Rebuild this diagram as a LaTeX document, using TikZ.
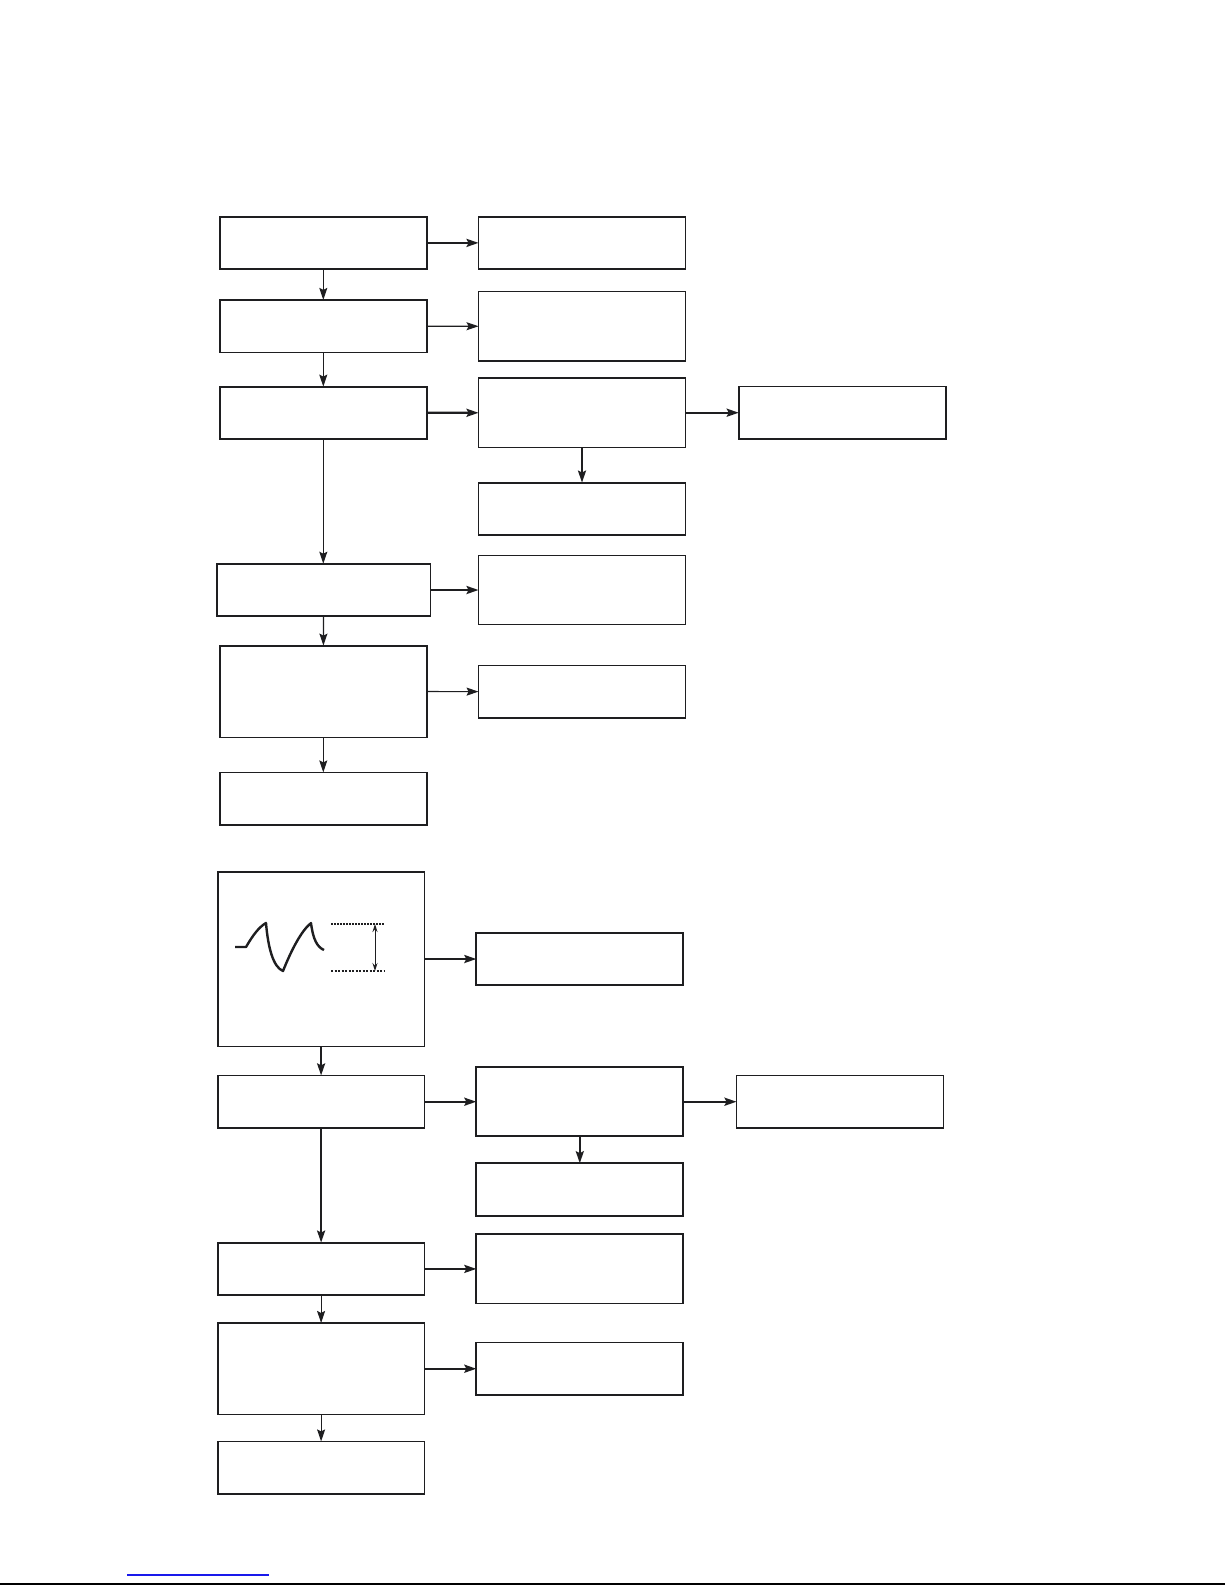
\documentclass[tikz,border=0pt]{standalone}
\usepackage{tikz}
\usetikzlibrary{arrows,arrows.meta,shapes,positioning}
\usepackage{xcolor}
\definecolor{linkblue}{RGB}{25,25,235}
\definecolor{ink}{RGB}{30,30,32}

\begin{document}
\begin{tikzpicture}[x=1pt, y=-1pt, >={Stealth[length=12pt,width=8pt,inset=2pt]},
    blk/.style={draw=ink, line width=1.8pt, minimum width=206.9pt, minimum height=#1,
      inner sep=0pt, outer sep=0pt},
    blk/.default=52.6pt,
    flow/.style={->, draw=ink, line width=1.2pt},
    flowb/.style={->, draw=ink, line width=2.3pt}] % {{{
    \useasboundingbox (0,0) rectangle (1225,1585);
    \pgfmathsetmacro{\colA}{323.3}
    \pgfmathsetmacro{\colB}{582}
    \pgfmathsetmacro{\colC}{842.2}
    \begin{scope}[shift={(0,0)}] % Upper chart {{{
      \node[blk] (m1) at (\colA,242.9) {};
      \node[blk] (m2) at (\colA,326.2) {};
      \node[blk] (m3) at (\colA,412.9) {};
      \node[blk, minimum width=213.8pt] (m4) at (\colA+0.2,590) {};
      \node[blk=91.8pt] (m5) at (\colA,691.5) {};
      \node[blk] (m6) at (\colA,798.7) {};
      \node[blk] (s1) at (\colB,242.9) {};
      \node[blk=69.5pt] (s2) at (\colB,326.3) {};
      \node[blk=69.5pt] (s3) at (\colB,412.7) {};
      \node[blk] (s4) at (\colB,508.9) {};
      \node[blk=69pt] (s5) at (\colB,590) {};
      \node[blk] (s6) at (\colB,691.7) {};
      \node[blk] (r1) at (\colC,412.7) {};
      \draw[flowb] (m1) -- (s1);
      \draw[flow] (m1) -- (m2);
      \draw[flow] (m2) -- (s2);
      \draw[flow] (m2) -- (m3);
      \draw[flowb] (m3) -- (s3);
      \draw[flowb] (s3) -- (r1);
      \draw[flowb] (s3) -- (s4);
      \draw[flow] (m3) -- (m3 |- m4.north);
      \draw[flowb] (m4) -- (s5);
      \draw[flow] (m4) -- (m5);
      \draw[flow] (m5) -- (s6);
      \draw[flow] (m5) -- (m6);
    \end{scope} % }}}
    \begin{scope}[shift={(-2.2,0)}] % Lower chart {{{
      \node[blk=174.8pt] (n1) at (\colA,959) {};
      \node[blk] (n2) at (\colA,1101.7) {};
      \node[blk] (n3) at (\colA,1268.9) {};
      \node[blk=91.5pt] (n4) at (\colA,1368.7) {};
      \node[blk] (n5) at (\colA,1467.7) {};
      \node[blk] (t1) at (\colB,959) {};
      \node[blk=69.3pt] (t2) at (\colB,1101.7) {};
      \node[blk] (t3) at (\colB,1189.5) {};
      \node[blk=69.3pt] (t4) at (\colB,1268.9) {};
      \node[blk] (t5) at (\colB,1368.7) {};
      \node[blk] (r2) at (\colC,1101.7) {};
      \begin{scope}[shift={(237.2,947)}] % waveform
        \draw[ink, line width=2.4pt, line join=round]
          (0,0) -- (11,0) .. controls (18,-12) and (24,-20) .. (31,-24)
          .. controls (33,0) and (38,20) .. (48,24)
          .. controls (56,4) and (66,-16) .. (76,-24)
          .. controls (78,-8) and (82,0) .. (89,3);
        \draw[ink, line width=1.2pt, dash pattern=on 1.5pt off 1.5pt] (96,-23) -- (150,-23);
        \draw[ink, line width=1.6pt, dash pattern=on 2pt off 1.5pt] (96,24) -- (150,24);
        \draw[ink, line width=1pt, {Stealth[length=8pt,width=5pt]}-{Stealth[length=8pt,width=5pt]}]
          (140,-23) -- (140,24);
      \end{scope}
      \draw[flowb] (n1) -- (t1);
      \draw[flowb] (n1) -- (n2);
      \draw[flowb] (n2) -- (t2);
      \draw[flowb] (t2) -- (r2);
      \draw[flowb] (t2) -- (t3);
      \draw[flowb] (n2) -- (n3);
      \draw[flowb] (n3) -- (t4);
      \draw[flow] (n3) -- (n4);
      \draw[flowb] (n4) -- (t5);
      \draw[flow] (n4) -- (n5);
    \end{scope} % }}}
    \draw[linkblue, line width=1.4pt] (127.3,1575) -- (269,1575);
    \draw[black, line width=2pt] (0,1584.3) -- (1225,1584.3);
\end{tikzpicture} % }}}
\end{document}
